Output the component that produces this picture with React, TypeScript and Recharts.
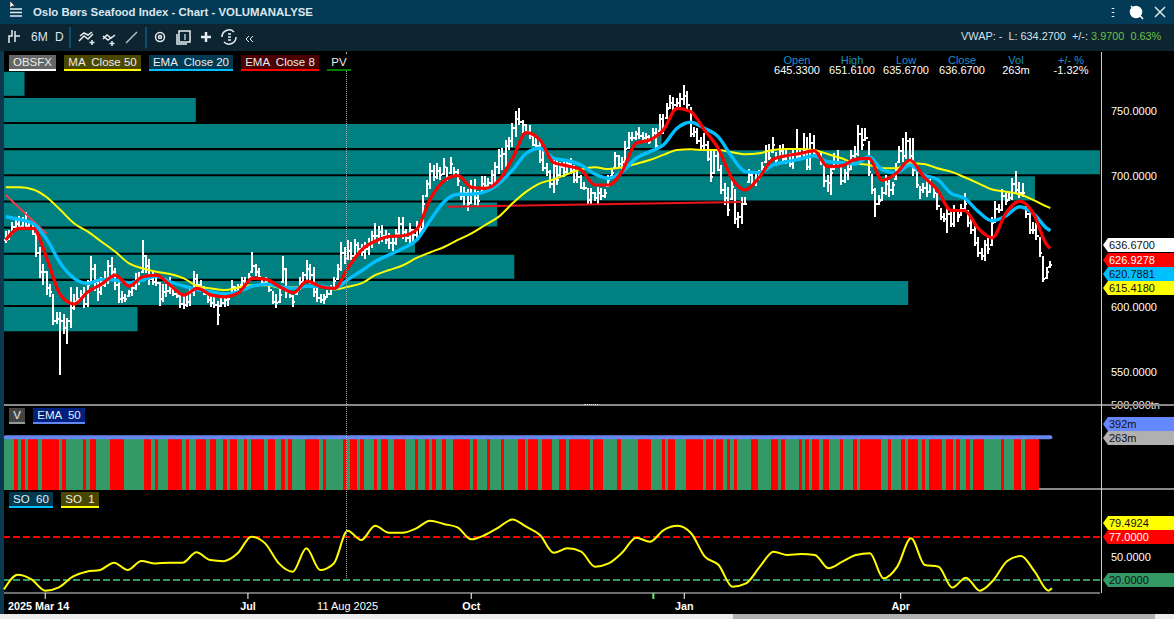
import React from "react";
import {
  ComposedChart,
  Bar,
  Line,
  XAxis,
  YAxis,
  ReferenceArea,
  ReferenceLine,
} from "recharts";

// Daily high / low / close
const highs = [
  658,659,665,668,670,669,673,667,664,659,
  646,633,628,618,610,596,596,595,592,615,
  610,615,613,615,621,639,633,621,623,628,
  636,638,630,623,612,610,613,618,626,627,
  651,640,637,628,623,619,618,618,623,616,
  613,610,609,610,616,628,625,621,616,613,
  610,609,605,609,610,610,621,616,618,623,
  623,626,642,633,630,622,623,617,612,610,
  616,639,630,610,609,616,623,627,636,633,
  631,616,610,610,613,617,623,633,650,646,
  651,650,652,650,648,650,653,658,664,662,
  663,659,657,655,660,669,669,660,664,660,
  666,664,686,697,710,709,710,707,714,707,
  715,707,706,693,692,690,697,698,689,700,
  700,699,705,711,721,722,728,730,741,750,
  752,743,740,739,733,729,727,720,710,705,
  714,714,711,712,712,714,709,705,701,696,
  691,691,688,692,691,690,701,706,719,716,
  715,727,734,734,735,738,734,733,732,737,
  737,748,748,756,762,761,760,764,770,765,
  753,738,737,730,733,727,721,720,720,709,
  695,692,697,690,673,684,684,706,704,702,
  705,711,724,725,730,719,724,725,720,718,
  721,736,721,733,730,733,732,720,719,709,
  701,709,718,720,707,706,710,720,723,739,
  737,737,727,702,691,686,692,701,697,696,
  710,723,729,734,729,729,705,693,695,697,
  698,693,687,676,672,677,674,678,674,679,
  687,674,670,662,654,645,651,653,669,681,
  679,690,687,687,699,704,696,695,677,672,
  665,664,654,639,631,635,
];
const lows = [
  649,651,655,659,659,661,660,660,655,638,
  622,617,610,608,586,587,548,580,572,584,
  598,603,605,599,600,618,612,605,609,616,
  618,623,613,603,603,604,608,609,613,617,
  626,626,617,617,616,601,604,608,610,608,
  607,599,598,600,601,609,614,612,609,603,
  600,599,587,600,600,601,610,610,612,616,
  616,619,626,624,621,617,616,612,602,599,
  603,618,607,607,600,609,613,618,621,618,
  608,604,603,602,607,609,614,621,628,633,
  636,636,638,640,639,637,640,645,650,648,
  650,648,645,643,648,654,652,650,648,650,
  652,655,659,684,690,697,698,697,701,696,
  702,701,693,682,678,673,679,678,677,687,
  690,692,693,695,702,705,707,720,723,730,
  739,733,733,728,723,721,710,704,700,691,
  687,693,700,700,701,702,695,695,690,690,
  679,679,681,679,682,683,692,700,706,707,
  704,707,721,727,728,729,728,728,725,728,
  721,734,733,744,751,749,753,753,755,751,
  730,730,725,720,721,712,696,702,704,687,
  678,670,682,663,661,663,678,695,692,693,
  697,702,710,713,718,710,714,711,709,707,
  706,713,713,715,705,705,716,715,709,692,
  688,686,705,707,693,695,697,705,714,715,
  720,727,700,687,669,678,681,686,684,686,
  697,710,711,713,711,700,691,683,687,684,
  687,684,674,667,665,656,661,661,665,670,
  674,661,656,647,639,636,635,641,647,664,
  672,673,678,681,682,687,684,684,668,656,
  656,651,639,619,622,630,
];
const closes = [
  652,657,662,664,662,667,663,665,657,642,
  628,628,615,612,590,592,590,585,590,600,
  605,607,610,603,618,630,620,612,618,622,
  632,628,618,607,608,607,612,615,622,622,
  640,632,622,620,619,607,612,613,615,611,
  609,603,602,605,612,622,618,615,611,606,
  604,602,595,604,606,607,616,613,616,621,
  619,624,632,628,624,619,620,614,605,604,
  610,630,612,609,605,613,620,625,630,625,
  612,608,606,607,611,615,621,630,642,638,
  644,640,648,645,643,645,650,655,655,658,
  655,652,650,650,657,664,658,654,660,656,
  662,660,680,695,705,700,705,702,708,700,
  710,704,697,686,688,680,692,684,682,695,
  693,696,702,708,716,718,724,728,738,745,
  742,740,735,732,725,724,713,707,704,695,
  709,698,708,704,710,705,698,700,692,692,
  683,688,684,688,686,688,698,703,716,710,
  712,722,730,730,733,732,730,731,727,734,
  724,745,736,752,757,755,757,760,762,755,
  733,735,728,724,725,714,700,716,706,690,
  684,675,693,668,670,680,680,702,695,698,
  702,708,720,715,725,713,720,714,716,710,
  718,716,718,720,708,726,719,717,712,697,
  696,703,708,712,697,703,706,716,718,733,
  725,730,704,690,680,682,688,695,690,694,
  706,720,716,728,716,706,694,690,692,689,
  695,688,678,670,668,672,664,674,670,676,
  680,665,660,650,642,640,648,645,665,676,
  675,686,682,684,695,690,688,688,672,660,
  660,655,642,622,628,633,
];

// Line values read every fourth bar; the last entry belongs to the final bar
const sampleEvery = 4;
const ema8 = [
  651.3,660.2,660.2,637.3,609.2,602.3,611.7,617.6,624.5,616,
  623.2,624.5,616.8,609.2,614.3,609.2,607.9,611,622,621.2,
  615.6,611,619.9,615.6,614.3,630.4,644,650.6,654,654.6,
  659.5,683,696.7,700.5,691.6,690.8,697,713.8,733.5,727.8,
  710.5,708,704.9,693.4,693.4,704,725.3,727.8,735.5,752,
  749.5,735.5,721.5,698.5,689.6,699.3,713,715.8,717.6,719.7,
  707.4,708,713,713.8,697,702.3,712.5,699.8,689.6,674,
  673.8,660,653,671.7,681,671.7,647.5,645,
];
const ema20 = [
  669.1,667,664,651.8,633.4,622,618.1,621.2,620.7,618.6,
  620.7,623.7,619.4,616,613.5,611.7,610,611.7,616,617.6,
  615.6,614.3,616,616,614.3,621.2,628,635,640,645,
  651.3,666.6,680.6,686.3,686.3,688.3,694.7,704.9,717.6,721.5,
  713.8,712,708.7,701.8,698.5,703.6,713.8,718.9,724,736.8,
  741.4,736.8,730.4,715,703.6,702.8,708.7,711.2,713.3,715.8,
  711.2,710.5,709.5,715,704.9,702.8,708.7,701,697.7,687,
  683.2,673,666,669.7,676.8,671.7,660.2,658.4,
];
const ma50 = [
  691.6,691.6,690,684,674.2,664,657.7,650,642.4,633.4,
  629.6,627,625.3,622,616,614.3,613,615,616.8,616.8,
  615,615,615.6,616,613.5,615.6,618.4,624.6,628.4,632,
  637.6,642,646,651.4,656.4,662.8,669.2,679.4,688.3,694.7,
  697.7,701.8,705.4,706.9,705.6,706.9,709.5,712.5,716.4,720.2,
  720.7,720.2,720.2,718.4,716.9,717.6,720.2,721,721,720.2,
  717.1,713.8,710,708.7,706.2,706.2,710,709.5,706.2,703.6,
  699.3,694.7,690,688.3,686.3,682,676.8,675.8,
];
const so1 = [
  7.6,27,20.9,5.9,10.3,24.4,31,33.3,43,33.3,
  45.2,42,43,43,56.7,46.5,45,55.4,77.5,68.6,
  42,31,62,33.3,42,85.4,73,92,82.8,82.8,
  88.5,98.7,94.3,89.8,73.9,79.7,89.8,100.4,90.7,79.7,
  56.2,62,57.6,37.7,42,56.7,76.1,70.8,86.3,92,
  82,50.9,39.9,11.2,15.6,37.7,57.6,53.2,54.5,53.2,
  35.5,44.3,53.2,55.4,22.2,37.7,75.3,39.9,37.7,9.9,
  23.1,5.9,20,45.2,51.8,31,5.9,9,
];

// Volume panel: every bar is drawn at the same height in the picture
const barVolume = 377;
const emaVolume = 392;
const volumeBarCount = 302;
const redVolumeBars = [
  3,5,7,8,9,11,12,13,14,15,17,23,25,26,31,32,33,34,41,42,44,48,49,50,51,53,
  56,57,58,60,61,64,66,67,70,72,73,74,75,77,78,81,83,88,89,90,91,93,99,101,102,104,
  108,110,111,114,115,116,120,123,125,128,131,132,133,134,135,137,141,145,150,151,
  153,154,155,157,158,159,162,163,165,166,167,168,169,170,172,173,174,179,
  185,186,187,188,192,194,195,199,200,201,202,203,205,206,208,209,211,213,218,219,
  224,225,227,232,234,236,237,239,240,244,248,250,251,252,253,254,255,258,262,
  264,265,266,268,270,271,272,273,275,276,278,281,283,284,285,291,295,296,298,299,300,301,
];

// Volume-by-price bins: top price of a 20-point bin and the last bar it reaches
const pvBinTops = [780, 760, 740, 720, 700, 680, 660, 640, 620, 600];
const pvBinEnds = [5, 55, 191, 319, 300, 143, 119, 148, 263, 38];
const pvBinHeight = 20;

const priceTicks = [550, 600, 700, 750];
const timeLabels: Record<number, string> = {
  12: "2025 Mar 14",
  71: "Jul",
  100: "11 Aug 2025",
  136: "Oct",
  189: "",
  198: "Jan",
  261: "Apr",
};
const timeTicks = [12, 71, 100, 136, 189, 198, 261];

const categoryCount = 320;
const rows = Array.from({ length: categoryCount }, (_, i) => {
  const row: any = { i };
  if (i < highs.length) {
    row.range = [lows[i], highs[i]];
    row.open = i > 0 ? closes[i - 1] : closes[0];
    row.close = closes[i];
    row.volEma = emaVolume;
    const k = i === highs.length - 1 ? ema8.length - 1 : i / sampleEvery;
    if (Number.isInteger(k)) {
      row.ema8 = ema8[k];
      row.ema20 = ema20[k];
      row.ma50 = ma50[k];
      row.so1 = so1[k];
    }
  }
  if (i < volumeBarCount) row.vol = barVolume;
  return row;
});

const FONT = "'Liberation Sans', Arial, sans-serif";

const OhlcShape = (props: any) => {
  const { x, y, width, height, payload } = props;
  if (!payload || !payload.range || !Number.isFinite(y)) return null;
  const [lo, hi] = payload.range;
  const perUnit = height / (hi - lo || 1);
  const cx = Math.round(x + width / 2 - 1);
  const top = Math.round(y);
  const h = Math.round(height);
  const yOpen = Math.min(Math.round(y + (hi - payload.open) * perUnit), top + h - 2);
  const yClose = Math.min(Math.round(y + (hi - payload.close) * perUnit), top + h - 2);
  return (
    <g fill="#fff" shapeRendering="crispEdges">
      <rect x={cx} y={top} width={2} height={h} />
      <rect x={cx - 1} y={yOpen} width={1} height={2} />
      <rect x={cx + 2} y={yClose} width={1} height={2} />
    </g>
  );
};

// The library floors the bar width; each bar is widened so neighbours touch.
const VolumeShape = (props: any) => {
  const { x, y, width, height, payload } = props;
  if (!payload || payload.vol === undefined || !Number.isFinite(y)) return null;
  const left = Math.round(x);
  const fill = redVolumeBars.includes(payload.i) ? "#ff0000" : "#339966";
  return <rect x={left} y={y} width={Math.ceil(width) + 1} height={height} fill={fill} shapeRendering="crispEdges" />;
};

const TimeTick = (props: any) => {
  const { x, y, payload } = props;
  const v = payload.value;
  const text = timeLabels[v];
  const isCross = v === 100;
  const isGreen = v === 189;
  const first = v === 12;
  return (
    <g>
      {!isCross && (
        <line x1={x} x2={x} y1={y - 8} y2={y - 2} stroke={isGreen ? "#66ee66" : "#fff"} strokeWidth={isGreen ? 2 : 1} />
      )}
      {text ? (
        <text
          x={first ? 8 : x}
          y={y + 9}
          textAnchor={first ? "start" : "middle"}
          fill="#fff"
          fontFamily={FONT}
          fontSize={isCross ? 11 : 10.8}
          fontWeight={isCross ? 400 : 700}
        >
          {text}
        </text>
      ) : null}
    </g>
  );
};

const Chip = ({ left, top, width, bg, line, text }: any) => (
  <div
    style={{
      position: "absolute",
      left,
      top,
      width,
      height: 14,
      lineHeight: "14px",
      background: bg,
      borderBottom: `2px solid ${line}`,
      color: "#eee",
      fontSize: 11.5,
      textAlign: "center",
      whiteSpace: "pre",
    }}
  >
    {text}
  </div>
);

const Tag = ({ top, bg, color, text, height = 14 }: any) => (
  <div
    style={{
      position: "absolute",
      left: 1103,
      top,
      width: 71,
      height,
      lineHeight: `${height}px`,
      background: bg,
      color,
      fontSize: 11,
      paddingLeft: 6,
      boxSizing: "border-box",
      clipPath: "polygon(5px 0, 100% 0, 100% 100%, 5px 100%, 0 50%)",
    }}
  >
    {text}
  </div>
);

const Head = ({ cx, label, value }: any) => (
  <div style={{ position: "absolute", left: cx - 35, top: 55, width: 70, textAlign: "center", fontSize: 11, lineHeight: "10px" }}>
    <div style={{ color: "#1f8fc4" }}>{label}</div>
    <div style={{ color: "#fff" }}>{value}</div>
  </div>
);

const Abs = ({ left, top, width, height, bg }: any) => (
  <div style={{ position: "absolute", left, top, width, height, background: bg }} />
);

const Icons = () => (
  <svg width={1174} height={52} style={{ position: "absolute", left: 0, top: 0 }} fill="none" stroke="#e6edf2" strokeWidth={1.5}>
    <path d="M10 9h12M10 12.5h12M10 16h12" />
    <path d="M10 1l0 7 2-2 3 0z" fill="#fff" stroke="#222" strokeWidth={0.5} />
    <path d="M9 43v-7h3v-6M15 31v11M15 36h5" />
    <path d="M79 41l5-5 4 3 5-5M80 36l4-3 4 2 4-3M92 40v5M89.5 42.5h5" />
    <path d="M103 36l5 4 4-3M103 39l4-4 4 3 4-3M112 41v5M109.5 43.5h5" />
    <path d="M126 43l11-11" stroke="#b8c2c8" />
    <circle cx={160} cy={37} r={4.5} />
    <circle cx={160} cy={37} r={1.5} />
    <rect x={179} y={31} width={11} height={11} />
    <path d="M177 34v10h10" />
    <path d="M185 34v6" strokeWidth={1.2} />
    <path d="M206 32v10M201 37h10" strokeWidth={2.5} />
    <path d="M222 37a7 7 0 0 1 12-5M236 37a7 7 0 0 1-12 5M228 34h3M228 37h3M228 40h3" />
    <path d="M249 36l-3 3 3 3M253 36l-3 3 3 3" strokeWidth={1} />
    <path d="M1113 8v1M1113 12v1M1113 16v1" strokeWidth={2.5} stroke="#fff" />
    <circle cx={1136} cy={12} r={5.5} fill="#fff" stroke="#fff" />
    <path d="M1131 6l12 13" stroke="#fff" />
    <path d="M1155 7l10 10M1165 7l-10 10" stroke="#dfe6ea" />
    <path d="M70 27v21M146 27v21" stroke="#0b4f75" strokeWidth={2} />
  </svg>
);

export default function App() {
  return (
    <div style={{ position: "fixed", left: 0, top: 0, width: 1174, height: 619, background: "#000", overflow: "hidden", fontFamily: FONT }}>
      <Abs left={0} top={0} width={1174} height={24} bg="#033b57" />
      <Abs left={0} top={24} width={1174} height={27} bg="#0d2431" />
      <Abs left={0} top={51} width={4} height={563} bg="#0b3950" />
      <Abs left={4} top={488} width={1170} height={2} bg="#8a8a8a" />
      <Icons />
      <div style={{ position: "absolute", left: 33, top: 4, color: "#dde6ec", fontSize: 11.4, fontWeight: 700, lineHeight: "16px" }}>
        Oslo Børs Seafood Index - Chart - VOLUMANALYSE
      </div>
      <div style={{ position: "absolute", left: 31, top: 30, color: "#dde6ec", fontSize: 12 }}>6M</div>
      <div style={{ position: "absolute", left: 55, top: 30, color: "#dde6ec", fontSize: 12 }}>D</div>
      <div style={{ position: "absolute", left: 961, top: 30, color: "#d5e0e6", fontSize: 10.9, whiteSpace: "pre" }}>
        {"VWAP: -  L: 634.2700  +/-: "}
        <span style={{ color: "#6cc04a" }}>{"3.9700  0.63%"}</span>
      </div>

      {/* price panel */}
      <div style={{ position: "absolute", left: 0, top: 52 }}>
        <ComposedChart width={1174} height={353} data={rows} margin={{ top: 0, right: 0, bottom: 0, left: 4 }} barCategoryGap={0} barGap={0}>
          <XAxis dataKey="i" type="category" hide interval={0} />
          <YAxis
            orientation="right"
            width={74}
            type="number"
            domain={[525.13, 795.12]}
            allowDataOverflow
            ticks={priceTicks}
            tickFormatter={(v: number) => v.toFixed(4)}
            axisLine={false}
            tickLine={false}
            tickMargin={5}
            tick={{ fill: "#fff", fontSize: 11, fontFamily: FONT }}
          />
          {pvBinTops.map((top, n) => (
            <ReferenceArea
              key={top}
              x1={0}
              x2={pvBinEnds[n]}
              y1={top - pvBinHeight + 1.6}
              y2={top}
              fill="#008080"
              fillOpacity={1}
              stroke="none"
            />
          ))}
          <Bar dataKey="range" isAnimationActive={false} shape={OhlcShape} />
          <ReferenceLine segment={[{ x: 129, y: 676.8 }, { x: 215, y: 680.4 }]} stroke="#e8141c" strokeWidth={2} />
          <ReferenceLine segment={[{ x: 0, y: 685.8 }, { x: 12, y: 656 }]} stroke="#e8414d" strokeWidth={2} />
          <Line dataKey="ma50" stroke="#ffff00" strokeWidth={2} dot={false} type="monotone" connectNulls isAnimationActive={false} />
          <Line dataKey="ema20" stroke="#00bfff" strokeWidth={3.4} dot={false} type="monotone" connectNulls isAnimationActive={false} />
          <Line dataKey="ema8" stroke="#ff0000" strokeWidth={3.2} dot={false} type="monotone" connectNulls isAnimationActive={false} />
        </ComposedChart>
      </div>

      {/* volume panel */}
      <div style={{ position: "absolute", left: 0, top: 395 }}>
        <ComposedChart width={1174} height={95} data={rows} margin={{ top: 10, right: 0, bottom: 0, left: 4 }} barCategoryGap={0} barGap={0}>
          <XAxis dataKey="i" type="category" hide interval={0} />
          <YAxis
            orientation="right"
            width={74}
            type="number"
            domain={[0, 633]}
            allowDataOverflow
            ticks={[633]}
            tickFormatter={() => "500,000tn"}
            axisLine={false}
            tickLine={false}
            tickMargin={5}
            tick={{ fill: "#e8e8e8", fontSize: 11, fontFamily: FONT }}
          />
          <Bar dataKey="vol" isAnimationActive={false} shape={VolumeShape} />
          <Line dataKey="volEma" stroke="#6688ee" strokeWidth={4} strokeLinecap="round" dot={false} type="linear" isAnimationActive={false} />
        </ComposedChart>
      </div>

      {/* oscillator panel */}
      <div style={{ position: "absolute", left: 0, top: 490 }}>
        <ComposedChart width={1174} height={125} data={rows} margin={{ top: 0, right: 0, bottom: 0, left: 4 }}>
          <XAxis
            dataKey="i"
            type="category"
            height={22}
            interval={0}
            ticks={timeTicks}
            tick={TimeTick}
            tickLine={false}
            axisLine={{ stroke: "#d8d8d8", strokeWidth: 1 }}
          />
          <YAxis
            orientation="right"
            width={74}
            type="number"
            domain={[2.76, 139.4]}
            allowDataOverflow
            ticks={[50]}
            tickFormatter={(v: number) => v.toFixed(4)}
            axisLine={false}
            tickLine={false}
            tickMargin={5}
            tick={{ fill: "#fff", fontSize: 11, fontFamily: FONT }}
          />
          <ReferenceLine y={77} stroke="#ff0000" strokeWidth={2} strokeDasharray="7 3" />
          <ReferenceLine y={20} stroke="#339966" strokeWidth={2} strokeDasharray="7 3" />
          <Line dataKey="so1" stroke="#ffff00" strokeWidth={2} dot={false} type="monotone" connectNulls isAnimationActive={false} />
        </ComposedChart>
      </div>

      {/* panel frame */}
      <Abs left={4} top={404} width={1170} height={2} bg="#8a8a8a" />
      <Abs left={1101} top={52} width={1} height={541} bg="#cfcfcf" />
      <div style={{ position: "absolute", left: 346, top: 52, height: 526, borderLeft: "1px dotted #aaa" }} />
      <div style={{ position: "absolute", left: 584, top: 404, width: 14, height: 2, borderTop: "1px dotted #ddd" }} />
      <Abs left={0} top={614} width={1174} height={5} bg="#ececec" />
      <Abs left={733} top={614} width={422} height={5} bg="#b0b0b0" />

      {/* legends */}
      <Chip left={9} top={55} width={47} bg="#666" line="#fff" text="OBSFX" />
      <Chip left={64} top={55} width={77} bg="#4a4700" line="#ffff00" text="MA  Close 50" />
      <Chip left={149} top={55} width={84} bg="#003a52" line="#00bfff" text="EMA  Close 20" />
      <Chip left={241} top={55} width={78} bg="#4a0000" line="#ff0000" text="EMA  Close 8" />
      <Chip left={327} top={55} width={24} bg="#000" line="#008000" text="PV" />
      <Chip left={9} top={408} width={16} bg="#444" line="#999" text="V" />
      <Chip left={33} top={408} width={52} bg="#002080" line="#6688ee" text="EMA  50" />
      <Chip left={9} top={492} width={44} bg="#003a52" line="#00bfff" text="SO  60" />
      <Chip left={61} top={492} width={38} bg="#4a4700" line="#ffff00" text="SO  1" />

      {/* readout */}
      <Head cx={797} label="Open" value="645.3300" />
      <Head cx={852} label="High" value="651.6100" />
      <Head cx={906} label="Low" value="635.6700" />
      <Head cx={962} label="Close" value="636.6700" />
      <Head cx={1016} label="Vol" value="263m" />
      <Head cx={1071} label="+/- %" value="-1.32%" />

      {/* value tags */}
      <Tag top={238} bg="#fff" color="#111" text="636.6700" />
      <Tag top={253} bg="#ff0000" color="#fff" text="626.9278" />
      <Tag top={267} bg="#00bfff" color="#111" text="620.7881" />
      <Tag top={281} bg="#ffff00" color="#111" text="615.4180" />
      <Tag top={417} bg="#6688ff" color="#111" text="392m" />
      <Tag top={431} bg="#b0b0b0" color="#111" text="263m" />
      <Tag top={516} bg="#ffff00" color="#111" text="79.4924" />
      <Tag top={530} bg="#ff0000" color="#fff" text="77.0000" />
      <Tag top={573} bg="#339966" color="#111" text="20.0000" />
    </div>
  );
}
